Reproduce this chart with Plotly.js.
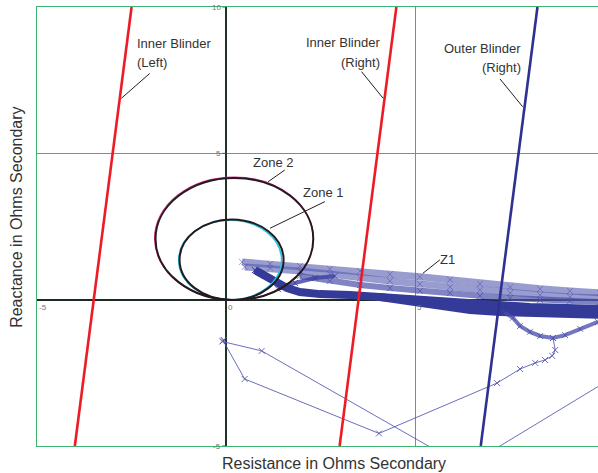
<!DOCTYPE html>
<html>
<head>
<meta charset="utf-8">
<script src="https://cdn.plot.ly/plotly-3.0.1.min.js"></script>
<style>html,body{margin:0;padding:0;background:#fff;}#chart{width:598px;height:473px;}</style>
</head>
<body>
<div id="chart"></div>
<script>
// ---- Data ----
const blinderNames = ['Inner Blinder (Left)', 'Inner Blinder (Right)', 'Outer Blinder (Right)'];
const blinderXEnds = [-5, 10];              // reactance at the two ends of each blinder
const blinderRBottom = [-4.0, 3.0, 6.73];   // resistance at X = -5
const blinderRTop = [-2.5, 4.5, 8.23];      // resistance at X = 10

const zoneNames = ['Zone 1', 'Zone 2'];
const zoneReach = [2.75, 4.17];             // mho diameter (ohms)
const zoneAngle = [84, 84];                 // characteristic angle (deg)
const zoneUnderReach = [2.72, 4.20];        // second (coloured) characteristic
const zoneUnderAngle = [85.5, 84.3];

// Z1 apparent impedance trajectory (R, X)
const z1UpperTopR = [0.42, 1.16, 1.95, 2.74, 3.54, 4.33, 5.12, 5.92, 6.71, 7.51, 8.30, 9.09, 9.88];
const z1UpperTopX = [1.29, 1.22, 1.15, 1.05, 0.98, 0.87, 0.78, 0.68, 0.54, 0.43, 0.37, 0.30, 0.23];
const z1UpperBotR = [0.49, 1.16, 1.95, 2.74, 3.54, 4.33, 5.12, 5.92, 6.71, 7.51, 8.30, 9.09, 9.88];
const z1UpperBotX = [1.12, 1.08, 0.98, 0.88, 0.74, 0.64, 0.54, 0.43, 0.33, 0.23, 0.16, 0.09, 0.06];
const z1UpperLowR = [1.95, 2.74, 3.54, 4.33, 5.12, 5.92, 6.71, 7.51, 8.30, 9.09, 9.88];
const z1UpperLowX = [0.81, 0.64, 0.50, 0.40, 0.30, 0.23, 0.13, 0.06, -0.01, -0.04, -0.08];
const z1DenseR = [0.76, 1.02, 1.29, 1.61, 1.95, 2.48, 3.27, 4.07, 4.86, 5.65, 6.45, 7.24, 8.03, 8.82, 9.88];
const z1DenseX = [1.01, 0.81, 0.60, 0.40, 0.26, 0.19, 0.16, 0.09, 0.02, -0.04, -0.15, -0.22, -0.25, -0.28, -0.32];
const z1DenseLowR = [4.07, 4.86, 5.65, 6.45, 7.24, 8.03, 8.82, 9.88];
const z1DenseLowX = [0.09, -0.05, -0.20, -0.35, -0.42, -0.46, -0.49, -0.52];
const z1CrossR = [1.37, 1.82, 2.35, 2.87];
const z1CrossX = [0.36, 0.57, 0.74, 0.81];
const z1LoopR = [7.37, 7.58, 7.77, 8.03, 8.30, 8.64, 8.96, 9.36, 9.83];
const z1LoopX = [-0.45, -0.62, -0.90, -1.10, -1.24, -1.31, -1.21, -1.00, -0.76];
const z1SwingR = [8.64, 8.70, 8.62, 8.43, 8.17, 7.77, 7.16, 4.04, 0.49, -0.08, -0.06, -0.10, 0.94, 6.32, 10.2];
const z1SwingX = [-1.31, -1.72, -1.92, -2.06, -2.16, -2.37, -2.85, -4.57, -2.71, -1.40, -1.38, -1.43, -1.75, -5.72, -2.68];

const xTickVals = [-5, 0, 5];
const yTickVals = [-5, 5, 10];

// ---- Build ----
const blue = '#2e3192';
const traces = [];
function z1(r, x, w, col, ms) {
  traces.push({
    x: r, y: x, type: 'scatter', mode: 'lines+markers', showlegend: false, hoverinfo: 'skip',
    line: {color: col, width: w},
    marker: {symbol: 'x-thin', size: ms, line: {color: col, width: 1}}
  });
}
z1(z1UpperTopR, z1UpperTopX, 7, 'rgba(85,90,175,0.6)', 6);
z1(z1UpperBotR, z1UpperBotX, 7, 'rgba(85,90,175,0.6)', 6);
z1(z1UpperLowR, z1UpperLowX, 6, 'rgba(75,80,170,0.7)', 6);
z1(z1CrossR, z1CrossX, 4, 'rgba(60,65,160,0.8)', 6);
z1(z1DenseR, z1DenseX, 8, '#343a98', 6);
z1(z1DenseLowR, z1DenseLowX, 8, '#343a98', 6);
z1(z1LoopR, z1LoopX, 4, 'rgba(70,75,168,0.75)', 6);
z1(z1SwingR, z1SwingX, 1, 'rgba(80,85,175,0.85)', 6);

const blinderColors = ['#ed1c24', '#ed1c24', blue];
blinderNames.forEach((n, i) => {
  traces.push({
    x: [blinderRBottom[i], blinderRTop[i]], y: blinderXEnds, type: 'scatter', mode: 'lines',
    name: n, showlegend: false, hoverinfo: 'skip', line: {color: blinderColors[i], width: 2.6}
  });
});

const shapes = [];
function mho(reach, ang, col, w) {
  const a = ang * Math.PI / 180, r = reach / 2;
  const cx = r * Math.cos(a), cy = r * Math.sin(a);
  shapes.push({type: 'circle', xref: 'x', yref: 'y', x0: cx - r, x1: cx + r, y0: cy - r, y1: cy + r,
    line: {color: col, width: w}});
}
const underCols = ['#22c4e8', '#e0288c'];
const underW = [1.6, 1.2];
zoneNames.forEach((n, i) => mho(zoneUnderReach[i], zoneUnderAngle[i], underCols[i], underW[i]));
zoneNames.forEach((n, i) => mho(zoneReach[i], zoneAngle[i], '#231a1f', 2));

// leader lines
const leaders = [
  [-2.77, 6.88, -2.02, 7.73], [3.58, 7.79, 4.15, 6.88], [7.24, 7.54, 7.84, 6.59],
  [1.11, 4.03, 1.55, 4.43], [1.16, 2.44, 2.61, 3.35], [5.20, 0.90, 5.65, 1.36]
];
leaders.forEach(l => shapes.push({type: 'line', xref: 'x', yref: 'y', x0: l[0], y0: l[1], x1: l[2], y1: l[3],
  line: {color: '#231f20', width: 1}}));

// small tick marks at axis crossing
yTickVals.forEach(v => shapes.push({type: 'line', xref: 'paper', yref: 'y', x0: (226.3-4-37)/561, x1: (226.3-37)/561, y0: v, y1: v, line: {color: '#555', width: 1}}));

const font = {family: 'Liberation Sans, Arial, sans-serif', color: '#333'};
const annotations = [];
function txt(t, x, y, xa, size) {
  annotations.push({text: t, x: x, y: y, xref: 'x', yref: 'y', xanchor: xa, yanchor: 'middle', showarrow: false,
    font: Object.assign({}, font, {size: size || 13})});
}
txt('Inner Blinder', -2.41, 8.77, 'left');
txt('(Left)', -2.41, 8.09, 'left');
txt('Inner Blinder', 4.12, 8.78, 'right');
txt('(Right)', 4.12, 8.12, 'right');
txt('Outer Blinder', 7.86, 8.59, 'right');
txt('(Right)', 7.86, 7.93, 'right');
txt('Zone 2', 1.24, 4.69, 'center');
txt('Zone 1', 2.56, 3.66, 'center');
txt('Z1', 5.85, 1.36, 'center');

xTickVals.forEach(v => annotations.push({text: String(v), x: v, y: 0, xref: 'x', yref: 'y', xanchor: 'left', yanchor: 'top',
  xshift: 0, yshift: -1, showarrow: false, font: Object.assign({}, font, {size: 8, color: '#777'})}));
yTickVals.forEach(v => annotations.push({text: String(v), x: 0, y: v, xref: 'x', yref: 'y', xanchor: 'right', yanchor: 'middle',
  xshift: -3, showarrow: false, font: Object.assign({}, font, {size: 8, color: '#777'})}));

annotations.push({text: 'Resistance in Ohms Secondary', x: (333.5-37)/561, y: -0.039, xref: 'paper', yref: 'paper',
  xanchor: 'center', yanchor: 'middle', showarrow: false, font: Object.assign({}, font, {size: 16})});
annotations.push({text: 'Reactance in Ohms Secondary', x: (17-37)/561, y: (446-218)/438.7, xref: 'paper', yref: 'paper',
  xanchor: 'center', yanchor: 'middle', textangle: -90, showarrow: false, font: Object.assign({}, font, {size: 16})});

const grid = '#3cb371';
const layout = {
  width: 598, height: 473,
  margin: {l: 37, r: 0, t: 7.3, b: 27},
  paper_bgcolor: '#fff', plot_bgcolor: '#fff',
  showlegend: false,
  xaxis: {range: [-5, 9.83], tickmode: 'array', tickvals: [-5, 0, 5, 10], showticklabels: false, ticks: '',
    showgrid: true, gridcolor: grid, gridwidth: 1, zeroline: true, zerolinecolor: '#1c3326', zerolinewidth: 2,
    showline: true, linecolor: grid, linewidth: 1, mirror: true, fixedrange: true},
  yaxis: {range: [-5, 10], tickmode: 'array', tickvals: [-5, 0, 5, 10], showticklabels: false, ticks: '',
    showgrid: true, gridcolor: grid, gridwidth: 1, zeroline: true, zerolinecolor: '#1c2a22', zerolinewidth: 2,
    showline: true, linecolor: grid, linewidth: 1, mirror: false, fixedrange: true},
  shapes: shapes,
  annotations: annotations
};
Plotly.newPlot('chart', traces, layout, {staticPlot: true});
</script>
</body>
</html>
